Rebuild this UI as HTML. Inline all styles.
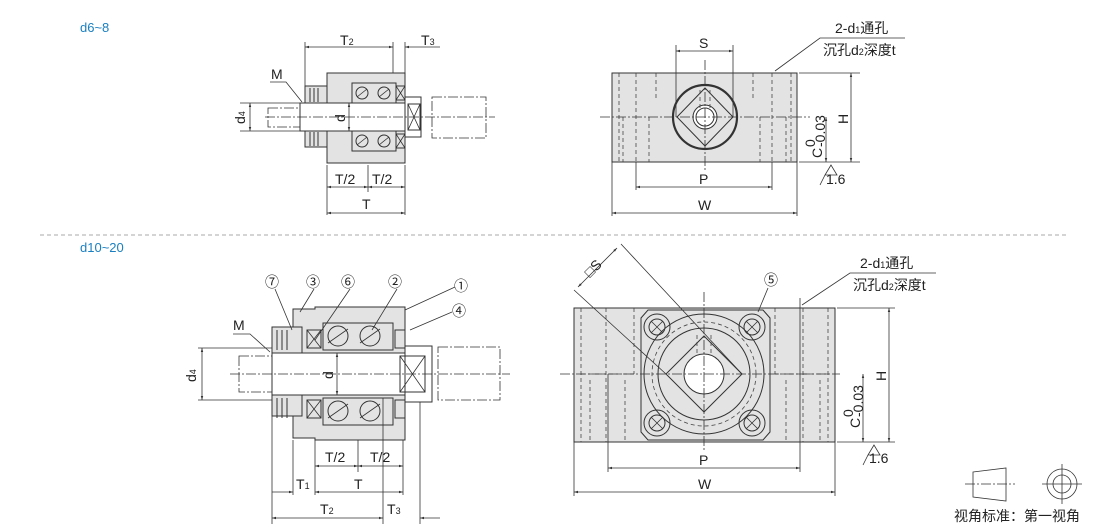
<!DOCTYPE html>
<html><head><meta charset="utf-8"><style>
html,body{margin:0;padding:0;background:#fff;}
svg{display:block;font-family:"Liberation Sans","Noto Sans CJK SC",sans-serif;}
.o{stroke:#333;stroke-width:1;fill:none}
.g{fill:#e3e3e3;stroke:#333;stroke-width:1}
.w{fill:#fff;stroke:#333;stroke-width:1}
.c{stroke:#333;stroke-width:.8;fill:none;stroke-dasharray:10 2 2 2}
.h{stroke:#444;stroke-width:.8;fill:none;stroke-dasharray:4 3}
.d{stroke:#333;stroke-width:.8;fill:none}
text{fill:#222;font-size:14px}
.b{fill:#1a7fc0;font-size:13px}
</style></head><body>
<svg width="1110" height="526" viewBox="0 0 1110 526">
<defs>
<marker id="a" viewBox="0 0 10 10" refX="10" refY="5" markerWidth="7" markerHeight="5" orient="auto-start-reverse"><path d="M0,2 L10,5 L0,8z" fill="#333"/></marker>
</defs>
<text class="b" x="80" y="32">d6~8</text>
<text class="b" x="80" y="252">d10~20</text>
<line x1="40" y1="235" x2="1068" y2="235" stroke="#aaa" stroke-dasharray="4 3"/>

<!-- TOP LEFT -->
<rect class="g" x="327" y="73" width="78" height="90"/>
<rect class="g" x="305" y="86" width="22" height="61"/>
<rect class="w" x="300" y="103" width="105" height="28"/>
<rect class="w" x="405" y="97" width="16" height="40"/>
<rect class="c" x="268" y="108" width="32" height="19"/>
<rect class="c" x="432" y="97" width="54" height="41"/>
<rect class="o" x="408" y="104" width="12" height="26"/>
<path class="d" d="M408,104 L420,130 M420,104 L408,130"/>
<circle class="o" cx="362" cy="93" r="6"/><circle class="o" cx="384" cy="93" r="6"/>
<circle class="o" cx="362" cy="141" r="6"/><circle class="o" cx="384" cy="141" r="6"/>
<path class="d" d="M357,97 L367,89 M379,97 L389,89 M357,145 L367,137 M379,145 L389,137"/>
<rect class="o" x="352" y="83" width="44" height="20"/><rect class="o" x="352" y="131" width="44" height="20"/>
<rect class="o" x="396" y="86" width="9" height="14"/><rect class="o" x="396" y="134" width="9" height="14"/>
<path class="d" d="M396,86 L405,100 M405,86 L396,100 M396,134 L405,148 M405,134 L396,148"/>
<path class="o" d="M310,88 v14 M314,88 v14 M318,88 v14 M310,132 v14 M314,132 v14 M318,132 v14"/>
<line class="c" x1="265" y1="117" x2="495" y2="117"/>
<path class="d" d="M305,42 V86 M393,42 V73 M405,42 V73 M405,165 V215 M327,165 V215 M368,165 V192"/>
<line class="d" x1="305" y1="47" x2="393" y2="47" marker-start="url(#a)" marker-end="url(#a)"/>
<line class="d" x1="405" y1="47" x2="440" y2="47" marker-start="url(#a)"/>
<text x="340" y="45">T<tspan font-size="9">2</tspan></text>
<text x="421" y="45">T<tspan font-size="9">3</tspan></text>
<line class="d" x1="327" y1="187" x2="368" y2="187" marker-start="url(#a)" marker-end="url(#a)"/>
<line class="d" x1="368" y1="187" x2="405" y2="187" marker-start="url(#a)" marker-end="url(#a)"/>
<text x="335" y="184" font-size="15">T/2</text><text x="372" y="184" font-size="15">T/2</text>
<line class="d" x1="327" y1="213" x2="405" y2="213" marker-start="url(#a)" marker-end="url(#a)"/>
<text x="362" y="209" font-size="15">T</text>
<path class="d" d="M240,103 H300 M240,131 H300"/>
<line class="d" x1="250" y1="103" x2="250" y2="131" marker-start="url(#a)" marker-end="url(#a)"/>
<text transform="translate(245,124) rotate(-90)" font-size="13">d<tspan font-size="9">4</tspan></text>
<line class="d" x1="349" y1="103" x2="349" y2="131" marker-start="url(#a)" marker-end="url(#a)"/>
<text transform="translate(345,122) rotate(-90)">d</text>
<text x="271" y="79">M</text>
<path class="d" d="M270,82 H286 L302,102"/>

<!-- TOP RIGHT -->
<rect class="g" x="612" y="73" width="185" height="89"/>
<path class="h" d="M619,73 V162 M636,73 V162 M656,73 V99 M753,73 V99 M772,73 V162 M791,73 V162 M623,117 V162 M649,117 V162 M760,117 V162 M786,117 V162"/>
<circle cx="705" cy="117" r="32" fill="#e3e3e3" stroke="#333" stroke-width="2.2"/>
<path class="o" d="M705,88 L733,117 L705,146 L677,117Z"/>
<circle class="w" cx="705" cy="117" r="12"/>
<circle class="o" cx="705" cy="117" r="9"/>
<path class="h" d="M700,90 V108 M710,90 V108"/>
<line class="c" x1="600" y1="117" x2="810" y2="117"/>
<line class="c" x1="705" y1="60" x2="705" y2="170"/>
<path class="d" d="M676,45 V117 M733,45 V117 M636,162 V190 M772,162 V190 M612,162 V216 M797,162 V216 M799,73 H860 M799,162 H860"/>
<line class="d" x1="676" y1="51" x2="733" y2="51" marker-start="url(#a)" marker-end="url(#a)"/>
<text x="699" y="48">S</text>
<line class="d" x1="636" y1="187" x2="772" y2="187" marker-start="url(#a)" marker-end="url(#a)"/>
<text x="699" y="184" font-size="15">P</text>
<line class="d" x1="612" y1="213" x2="797" y2="213" marker-start="url(#a)" marker-end="url(#a)"/>
<text x="698" y="210" font-size="15">W</text>
<line class="d" x1="851" y1="73" x2="851" y2="162" marker-start="url(#a)" marker-end="url(#a)"/>
<text transform="translate(848,124) rotate(-90)">H</text>
<line class="d" x1="826" y1="117" x2="826" y2="162" marker-start="url(#a)" marker-end="url(#a)"/>
<g transform="translate(822,158) rotate(-90)">
<text x="0" y="0" font-size="15">C</text>
<text x="11" y="-7" font-size="9">0</text>
<text x="11" y="3" font-size="9">-0.03</text></g>
<text x="835" y="33" font-size="13">2-d<tspan font-size="9">1</tspan>通孔</text>
<text x="823" y="55" font-size="13">沉孔d<tspan font-size="9">2</tspan>深度t</text>
<path class="d" d="M905,38 H820 L775,71"/>
<path class="d" d="M831,165 L825,175 H837 Z M825,175 L820,185"/>
<text x="826" y="184" font-size="9">1.6</text>

<!-- BOTTOM LEFT -->
<path class="g" d="M293,309 H315 V307 H405 V440 H315 V438 H293Z"/>
<rect class="g" x="272" y="327" width="30" height="89"/>
<rect class="w" x="272" y="353" width="148" height="42"/>
<rect class="w" x="405" y="346" width="27" height="56"/>
<rect class="c" x="239" y="356" width="33" height="36"/>
<rect class="c" x="438" y="347" width="62" height="53"/>
<rect class="o" x="400" y="356" width="25" height="36"/>
<path class="d" d="M400,356 L425,392 M425,356 L400,392"/>
<rect class="o" x="323" y="323" width="70" height="27"/><rect class="o" x="323" y="398" width="70" height="27"/>
<circle class="o" cx="338" cy="336" r="10"/><circle class="o" cx="370" cy="336" r="10"/>
<circle class="o" cx="338" cy="411" r="10"/><circle class="o" cx="370" cy="411" r="10"/>
<path class="d" d="M328,343 L348,329 M360,343 L380,329 M328,418 L348,404 M360,418 L380,404"/>
<rect class="o" x="307" y="330" width="14" height="18"/><rect class="o" x="307" y="400" width="14" height="18"/>
<path class="d" d="M307,330 L321,348 M321,330 L307,348 M307,400 L321,418 M321,400 L307,418"/>
<rect class="o" x="395" y="330" width="10" height="18"/><rect class="o" x="395" y="400" width="10" height="18"/>
<path class="o" d="M277,330 v20 M282,330 v20 M287,330 v20 M277,398 v20 M282,398 v20 M287,398 v20"/>
<line class="c" x1="230" y1="374" x2="510" y2="374"/>
<path class="d" d="M272,416 V524 M315,440 V495 M293,440 V495 M403,440 V495 M383,398 V524 M420,402 V524 M358,440 V472 M198,348 H272 M198,400 H272"/>
<line class="d" x1="315" y1="466" x2="358" y2="466" marker-start="url(#a)" marker-end="url(#a)"/>
<line class="d" x1="358" y1="466" x2="403" y2="466" marker-start="url(#a)" marker-end="url(#a)"/>
<text x="325" y="462" font-size="15">T/2</text><text x="370" y="462" font-size="15">T/2</text>
<line class="d" x1="272" y1="492" x2="293" y2="492" marker-end="url(#a)"/>
<line class="d" x1="315" y1="492" x2="403" y2="492" marker-start="url(#a)" marker-end="url(#a)"/>
<text x="296" y="489" font-size="15">T<tspan font-size="9">1</tspan></text><text x="354" y="489" font-size="15">T</text>
<line class="d" x1="272" y1="518" x2="383" y2="518" marker-start="url(#a)" marker-end="url(#a)"/>
<line class="d" x1="420" y1="518" x2="440" y2="518" marker-start="url(#a)"/>
<text x="320" y="514" font-size="15">T<tspan font-size="9">2</tspan></text><text x="387" y="514" font-size="15">T<tspan font-size="9">3</tspan></text>
<line class="d" x1="202" y1="348" x2="202" y2="400" marker-start="url(#a)" marker-end="url(#a)"/>
<text transform="translate(196,382) rotate(-90)" font-size="13">d<tspan font-size="9">4</tspan></text>
<line class="d" x1="337" y1="353" x2="337" y2="395" marker-start="url(#a)" marker-end="url(#a)"/>
<text transform="translate(333,379) rotate(-90)">d</text>
<text x="233" y="330">M</text>
<path class="d" d="M233,334 H250 L270,352"/>
<g font-size="15">
<text x="265" y="287">⑦</text><text x="306" y="287">③</text><text x="341" y="287">⑥</text><text x="388" y="287">②</text><text x="454" y="291">①</text><text x="452" y="316">④</text></g>
<path class="d" d="M275,289 L292,330 M314,289 L300,312 M350,289 L315,340 M397,289 L372,330 M455,287 L405,310 M452,312 L410,330"/>

<!-- BOTTOM RIGHT -->
<rect class="g" x="574" y="308" width="261" height="134"/>
<path class="h" d="M581,308 V442 M606,308 V442 M634,308 V374 M775,308 V374 M803,308 V442 M828,308 V442 M590,380 V442 M625,380 V442 M786,380 V442 M820,380 V442 M581,374 H634 M775,374 H828"/>
<path class="g" d="M648,310 H763 L770,318 V432 L763,440 H648 L641,432 V318Z" stroke-width="1"/>
<circle class="o" cx="704" cy="374" r="60"/>
<circle class="h" cx="704" cy="374" r="52"/>
<circle class="o" cx="704" cy="374" r="46"/>
<path class="o" d="M704,336 L742,374 L704,412 L666,374Z"/>
<circle class="w" cx="704" cy="374" r="20"/>
<path class="h" d="M697,335 V355 M711,335 V355"/>
<g>
<circle class="o" cx="657" cy="327" r="13"/><circle class="o" cx="657" cy="327" r="8"/><path class="d" d="M651,321 L663,333 M663,321 L651,333"/>
<circle class="o" cx="752" cy="327" r="13"/><circle class="o" cx="752" cy="327" r="8"/><path class="d" d="M746,321 L758,333 M758,321 L746,333"/>
<circle class="o" cx="657" cy="423" r="13"/><circle class="o" cx="657" cy="423" r="8"/><path class="d" d="M651,417 L663,429 M663,417 L651,429"/>
<circle class="o" cx="752" cy="423" r="13"/><circle class="o" cx="752" cy="423" r="8"/><path class="d" d="M746,417 L758,429 M758,417 L746,429"/>
</g>
<line class="c" x1="560" y1="374" x2="840" y2="374"/>
<line class="c" x1="704" y1="292" x2="704" y2="450"/>
<path class="d" d="M574,290 L666,374 M621,244 L742,374"/>
<line class="d" x1="578" y1="287" x2="617" y2="248" marker-start="url(#a)" marker-end="url(#a)"/>
<text transform="translate(590,278) rotate(-45)">□S</text>
<text x="764" y="285" font-size="15">⑤</text>
<path class="d" d="M768,288 L758,312"/>
<path class="d" d="M608,374 V472 M800,298 V472 M574,442 V496 M835,442 V496 M837,308 H895 M837,442 H895"/>
<line class="d" x1="608" y1="468" x2="800" y2="468" marker-start="url(#a)" marker-end="url(#a)"/>
<text x="699" y="465" font-size="15">P</text>
<line class="d" x1="574" y1="492" x2="835" y2="492" marker-start="url(#a)" marker-end="url(#a)"/>
<text x="698" y="489" font-size="15">W</text>
<line class="d" x1="889" y1="308" x2="889" y2="442" marker-start="url(#a)" marker-end="url(#a)"/>
<text transform="translate(886,381) rotate(-90)">H</text>
<line class="d" x1="863" y1="374" x2="863" y2="442" marker-start="url(#a)" marker-end="url(#a)"/>
<g transform="translate(860,428) rotate(-90)">
<text x="0" y="0" font-size="15">C</text>
<text x="11" y="-7" font-size="9">0</text>
<text x="11" y="3" font-size="9">-0.03</text></g>
<text x="860" y="268" font-size="13">2-d<tspan font-size="9">1</tspan>通孔</text>
<text x="853" y="290" font-size="13">沉孔d<tspan font-size="9">2</tspan>深度t</text>
<path class="d" d="M936,273 H850 L802,305"/>
<path class="d" d="M874,445 L868,455 H880 Z M868,455 L863,465"/>
<text x="869" y="463" font-size="9">1.6</text>

<!-- view symbol -->
<path class="d" d="M973,472 L1006,468 V501 L973,497Z"/>
<line class="c" x1="965" y1="484" x2="1015" y2="484"/>
<circle class="d" cx="1062" cy="484" r="15"/><circle class="d" cx="1062" cy="484" r="9"/>
<path class="d" d="M1042,484 H1082 M1062,464 V504"/>
<text x="954" y="521" font-size="14">视角标准：第一视角</text>
</svg>
</body></html>
